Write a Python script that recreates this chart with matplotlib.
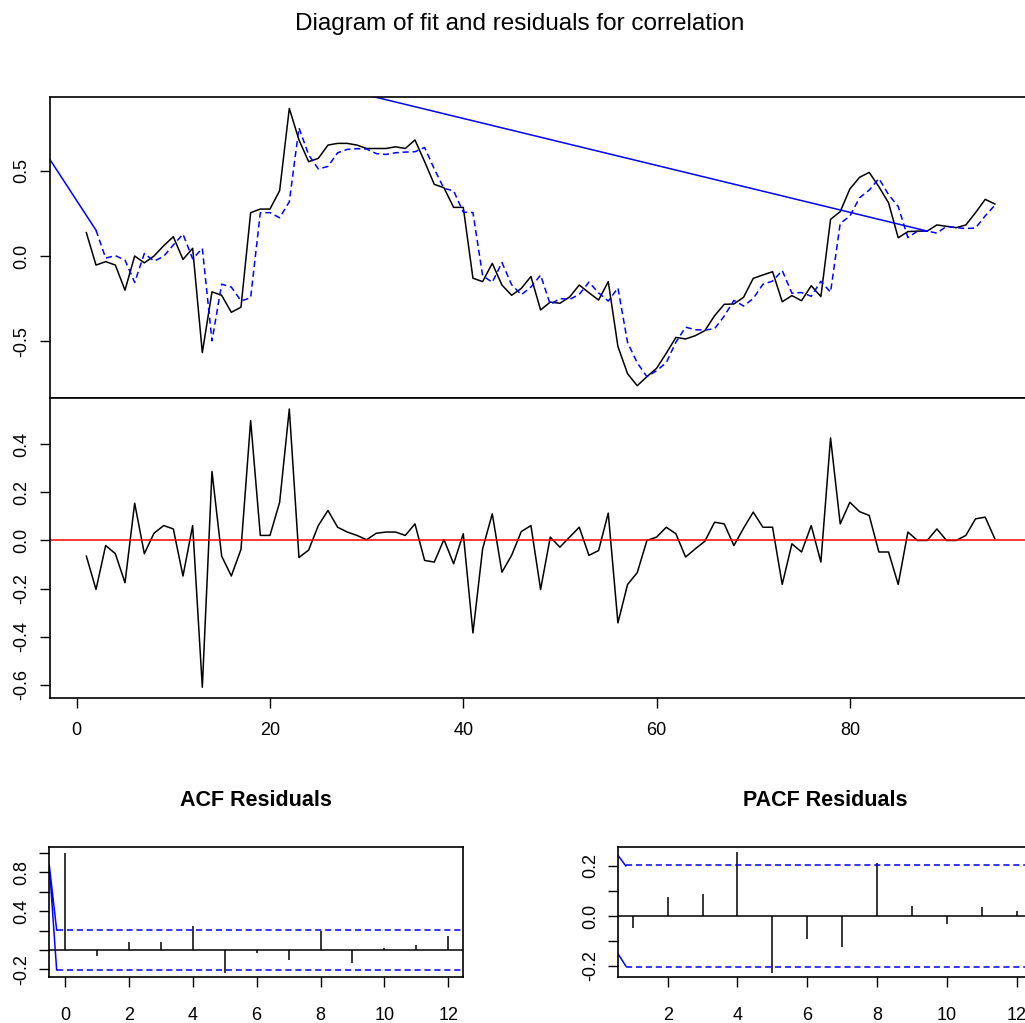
#!/usr/bin/env python3
"""
Fit / residual diagnostic figure with ACF and PACF of the residuals.
"""
import numpy as np
import matplotlib
matplotlib.use("Agg")
import matplotlib.pyplot as plt

plt.rcParams['font.family'] = ['Liberation Sans', 'DejaVu Sans']

# observed series (t = 1..95)
actual = [0.137, -0.053, -0.033, -0.053, -0.200, 0.000, -0.040, 0.000, 0.060, 0.113,
          -0.020, 0.045, -0.566, -0.210, -0.230, -0.330, -0.300, 0.254, 0.275, 0.275,
          0.383, 0.865, 0.680, 0.553, 0.572, 0.650, 0.660, 0.660, 0.650, 0.630,
          0.630, 0.630, 0.640, 0.630, 0.680, 0.553, 0.420, 0.400, 0.285, 0.285,
          -0.130, -0.150, -0.043, -0.170, -0.230, -0.190, -0.120, -0.316, -0.270, -0.277,
          -0.240, -0.170, -0.215, -0.258, -0.150, -0.530, -0.690, -0.760, -0.707, -0.658,
          -0.570, -0.477, -0.486, -0.467, -0.437, -0.350, -0.283, -0.281, -0.242, -0.131,
          -0.111, -0.092, -0.268, -0.232, -0.262, -0.174, -0.238, 0.215, 0.260, 0.393,
          0.461, 0.490, 0.406, 0.312, 0.107, 0.143, 0.146, 0.146, 0.182, 0.174,
          0.166, 0.182, 0.254, 0.332, 0.305]

# fitted series (t = 2..95)
fitted = [0.151, -0.012, 0.002, -0.024, -0.155, 0.015, -0.030, -0.002, 0.065,
          0.128, -0.017, 0.045, -0.497, -0.165, -0.182, -0.263, -0.245, 0.254, 0.254,
          0.224, 0.318, 0.751, 0.593, 0.510, 0.525, 0.605, 0.625, 0.629, 0.627,
          0.600, 0.595, 0.605, 0.609, 0.611, 0.636, 0.510, 0.396, 0.382, 0.257,
          0.255, -0.115, -0.154, -0.038, -0.168, -0.227, -0.182, -0.112, -0.284, -0.249,
          -0.254, -0.225, -0.153, -0.216, -0.264, -0.187, -0.507, -0.626, -0.707, -0.672,
          -0.625, -0.505, -0.417, -0.432, -0.434, -0.426, -0.352, -0.260, -0.293, -0.249,
          -0.166, -0.147, -0.085, -0.218, -0.214, -0.236, -0.148, -0.212, 0.191, 0.234,
          0.341, 0.386, 0.454, 0.360, 0.290, 0.108, 0.146, 0.146, 0.134, 0.174,
          0.166, 0.161, 0.164, 0.235, 0.298]

# stray segment in the fitted trace: off-panel point joined to t=2 and t=88
stray_t = [2, -14.1, 88]
stray_v = [0.151, 1.55, 0.146]

# residuals (t = 1..95)
resid = [-0.065, -0.204, -0.021, -0.055, -0.176, 0.155, -0.055, 0.030, 0.062, 0.048,
         -0.148, 0.062, -0.611, 0.287, -0.065, -0.148, -0.037, 0.499, 0.021, 0.021,
         0.159, 0.547, -0.071, -0.040, 0.062, 0.125, 0.055, 0.035, 0.021, 0.003,
         0.030, 0.035, 0.035, 0.021, 0.069, -0.083, -0.090, 0.004, -0.097, 0.028,
         -0.385, -0.035, 0.111, -0.132, -0.062, 0.037, 0.062, -0.204, 0.014, -0.028,
         0.014, 0.055, -0.062, -0.042, 0.114, -0.343, -0.183, -0.134, 0.000, 0.014,
         0.055, 0.028, -0.069, -0.035, -0.003, 0.076, 0.069, -0.021, 0.051, 0.118,
         0.055, 0.055, -0.183, -0.014, -0.048, 0.062, -0.090, 0.427, 0.069, 0.159,
         0.120, 0.104, -0.048, -0.048, -0.183, 0.035, 0.000, 0.000, 0.048, 0.000,
         0.000, 0.021, 0.090, 0.097, 0.007]

acf_lags = list(range(0, 13))
acf_vals = [1.0, -0.066, 0.086, 0.086, 0.245, -0.24, -0.03, -0.10, 0.20, -0.138,
            0.017, 0.052, 0.14]
pacf_lags = list(range(1, 13))
pacf_vals = [-0.049, 0.075, 0.088, 0.257, -0.227, -0.091, -0.125, 0.21, 0.041,
             -0.032, 0.035, 0.021]
conf = 0.205

# stray segments at the start of the confidence lines
acf_stray_x = [-0.26, -0.49, -0.26]
acf_stray_y = [conf, 0.87, -conf]
pacf_up_x, pacf_up_y = [0.30, 0.80], [0.295, 0.20]
pacf_lo_x, pacf_lo_y = [0.30, 0.80], [-0.09, -0.20]

BLUE = '#0000ff'
RED = '#ff0000'
DASH = (0, (4, 2.5))
LW = 1.1
TICK_FS = 13

W, H = 1025, 1023
fig = plt.figure(figsize=(W / 100, H / 100), dpi=100)


def frac(x0, y0, x1, y1):
    """pixel box -> figure fraction rect"""
    return [x0 / W, 1 - y1 / H, (x1 - x0) / W, (y1 - y0) / H]


def style(ax, xpad=10):
    for s in ax.spines.values():
        s.set_linewidth(1.2)
        s.set_color('black')
    ax.tick_params(direction='out', length=7, width=1.0, labelsize=TICK_FS,
                   colors='black')
    ax.tick_params(axis='y', pad=7)
    ax.tick_params(axis='x', pad=xpad)


t_act = np.arange(1, len(actual) + 1)
t_fit = np.arange(2, len(fitted) + 2)
t_res = np.arange(1, len(resid) + 1)

# top panel: data and fit
ax1 = fig.add_axes(frac(50.0, 97.3, 1031.2, 398.0))
ax1.plot(t_act, actual, color='black', lw=LW)
ax1.plot(t_fit, fitted, color=BLUE, lw=LW, linestyle=DASH)
ax1.plot(stray_t, stray_v, color=BLUE, lw=LW)
ax1.set_xlim(-2.76, 98.76)
ax1.set_ylim(-0.832, 0.93)
ax1.set_xticks([])
ax1.set_yticks([-0.5, 0.0, 0.5])
ax1.set_yticklabels(['-0.5', '0.0', '0.5'], rotation=90, va='center')
style(ax1)

# middle panel: residuals
ax2 = fig.add_axes(frac(50.0, 398.0, 1031.2, 698.3))
ax2.plot(t_res, resid, color='black', lw=LW)
ax2.axhline(0, color=RED, lw=LW)
ax2.set_xlim(-2.76, 98.76)
ax2.set_ylim(-0.657, 0.593)
ax2.set_xticks([0, 20, 40, 60, 80])
ax2.set_yticks([-0.6, -0.4, -0.2, 0.0, 0.2, 0.4])
ax2.set_yticklabels(['-0.6', '-0.4', '-0.2', '0.0', '0.2', '0.4'], rotation=90,
                    va='center')
style(ax2)

fig.text(520 / W, 1 - 24 / H, 'Diagram of fit and residuals for correlation',
         ha='center', va='center', fontsize=17.5)

# ACF of residuals
ax3 = fig.add_axes(frac(49.3, 846.7, 463.3, 977.3))
ax3.vlines(acf_lags, 0, acf_vals, color='black', lw=LW)
ax3.axhline(0, color='black', lw=LW)
ax3.plot([-0.26, 13], [conf, conf], color=BLUE, lw=LW, linestyle=DASH)
ax3.plot([-0.26, 13], [-conf, -conf], color=BLUE, lw=LW, linestyle=DASH)
ax3.plot(acf_stray_x, acf_stray_y, color=BLUE, lw=LW)
ax3.set_xlim(-0.49, 12.47)
ax3.set_ylim(-0.281, 1.062)
ax3.set_xticks([0, 2, 4, 6, 8, 10, 12])
ax3.set_yticks([-0.2, 0.0, 0.2, 0.4, 0.6, 0.8, 1.0])
ax3.set_yticklabels(['-0.2', '', '', '0.4', '', '0.8', ''], rotation=90, va='center')
ax3.set_title('ACF Residuals', fontsize=15.5, fontweight='bold', pad=29.5)
style(ax3, xpad=14.5)

# PACF of residuals
ax4 = fig.add_axes(frac(618.3, 846.7, 1032.0, 977.3))
ax4.vlines(pacf_lags, 0, pacf_vals, color='black', lw=LW)
ax4.axhline(0, color='black', lw=LW)
ax4.plot([0.8, 13], [conf, conf], color=BLUE, lw=LW, linestyle=DASH)
ax4.plot([0.8, 13], [-conf, -conf], color=BLUE, lw=LW, linestyle=DASH)
ax4.plot(pacf_up_x, pacf_up_y, color=BLUE, lw=LW)
ax4.plot(pacf_lo_x, pacf_lo_y, color=BLUE, lw=LW)
ax4.set_xlim(0.585, 12.44)
ax4.set_ylim(-0.245, 0.277)
ax4.set_xticks([2, 4, 6, 8, 10, 12])
ax4.set_yticks([-0.2, -0.1, 0.0, 0.1, 0.2])
ax4.set_yticklabels(['-0.2', '', '0.0', '', '0.2'], rotation=90, va='center')
ax4.set_title('PACF Residuals', fontsize=15.5, fontweight='bold', pad=29.5)
style(ax4, xpad=14.5)

fig.savefig('out.png', dpi=100)
